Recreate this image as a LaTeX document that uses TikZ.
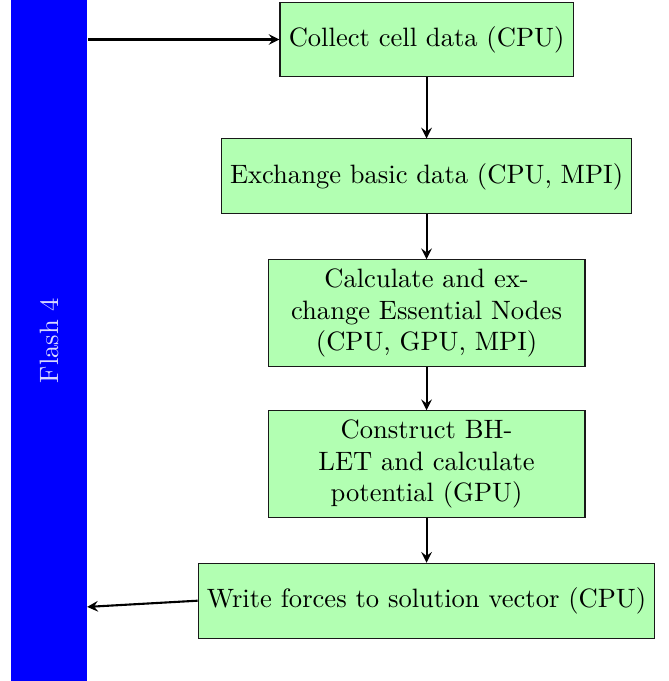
\documentclass[tikz,border=0pt]{standalone}
\usepackage{amsmath}
\usepackage{tikz}
\usetikzlibrary{arrows.meta,positioning}

\begin{document}
\begin{tikzpicture}[>=stealth, thick,
    every node/.style={font=\fontsize{10.1}{12.1}\selectfont},
    stage/.style={draw=black!90, thin, fill=green!30, minimum height=1cm, align=center},
    widestage/.style={stage, text width=4cm}]
    \useasboundingbox (0,0) rectangle (8.93,-9.10);

    \node[fill=blue, rotate=90, minimum width=9.10cm, minimum height=1.02cm, text=white!85!blue] (flash) at (0.655,-4.55) {Flash 4};

    \node[stage] (collect) at (5.70,-0.528) {Collect cell data (CPU)};
    \node[stage, below=0.815cm of collect] (exchange) {Exchange basic data (CPU, MPI)};
    \node[widestage, below=0.6cm of exchange] (essential) {Calculate and exchange Essential Nodes (CPU, GPU, MPI)};
    \node[widestage, below=0.58cm of essential] (construct) {Construct BH-LET and calculate potential (GPU)};
    \node[stage, below=0.6cm of construct] (write) {Write forces to solution vector (CPU)};

    \coordinate (ret) at (1.165,-8.11);

    \draw[->] (flash.south |- collect.west) -- (collect.west);
    \draw[->] (collect) -- (exchange);
    \draw[->] (exchange) -- (essential);
    \draw[->] (essential) -- (construct);
    \draw[->] (construct) -- (write);
    \draw[->] (write.west) -- (ret);
\end{tikzpicture}
\end{document}
